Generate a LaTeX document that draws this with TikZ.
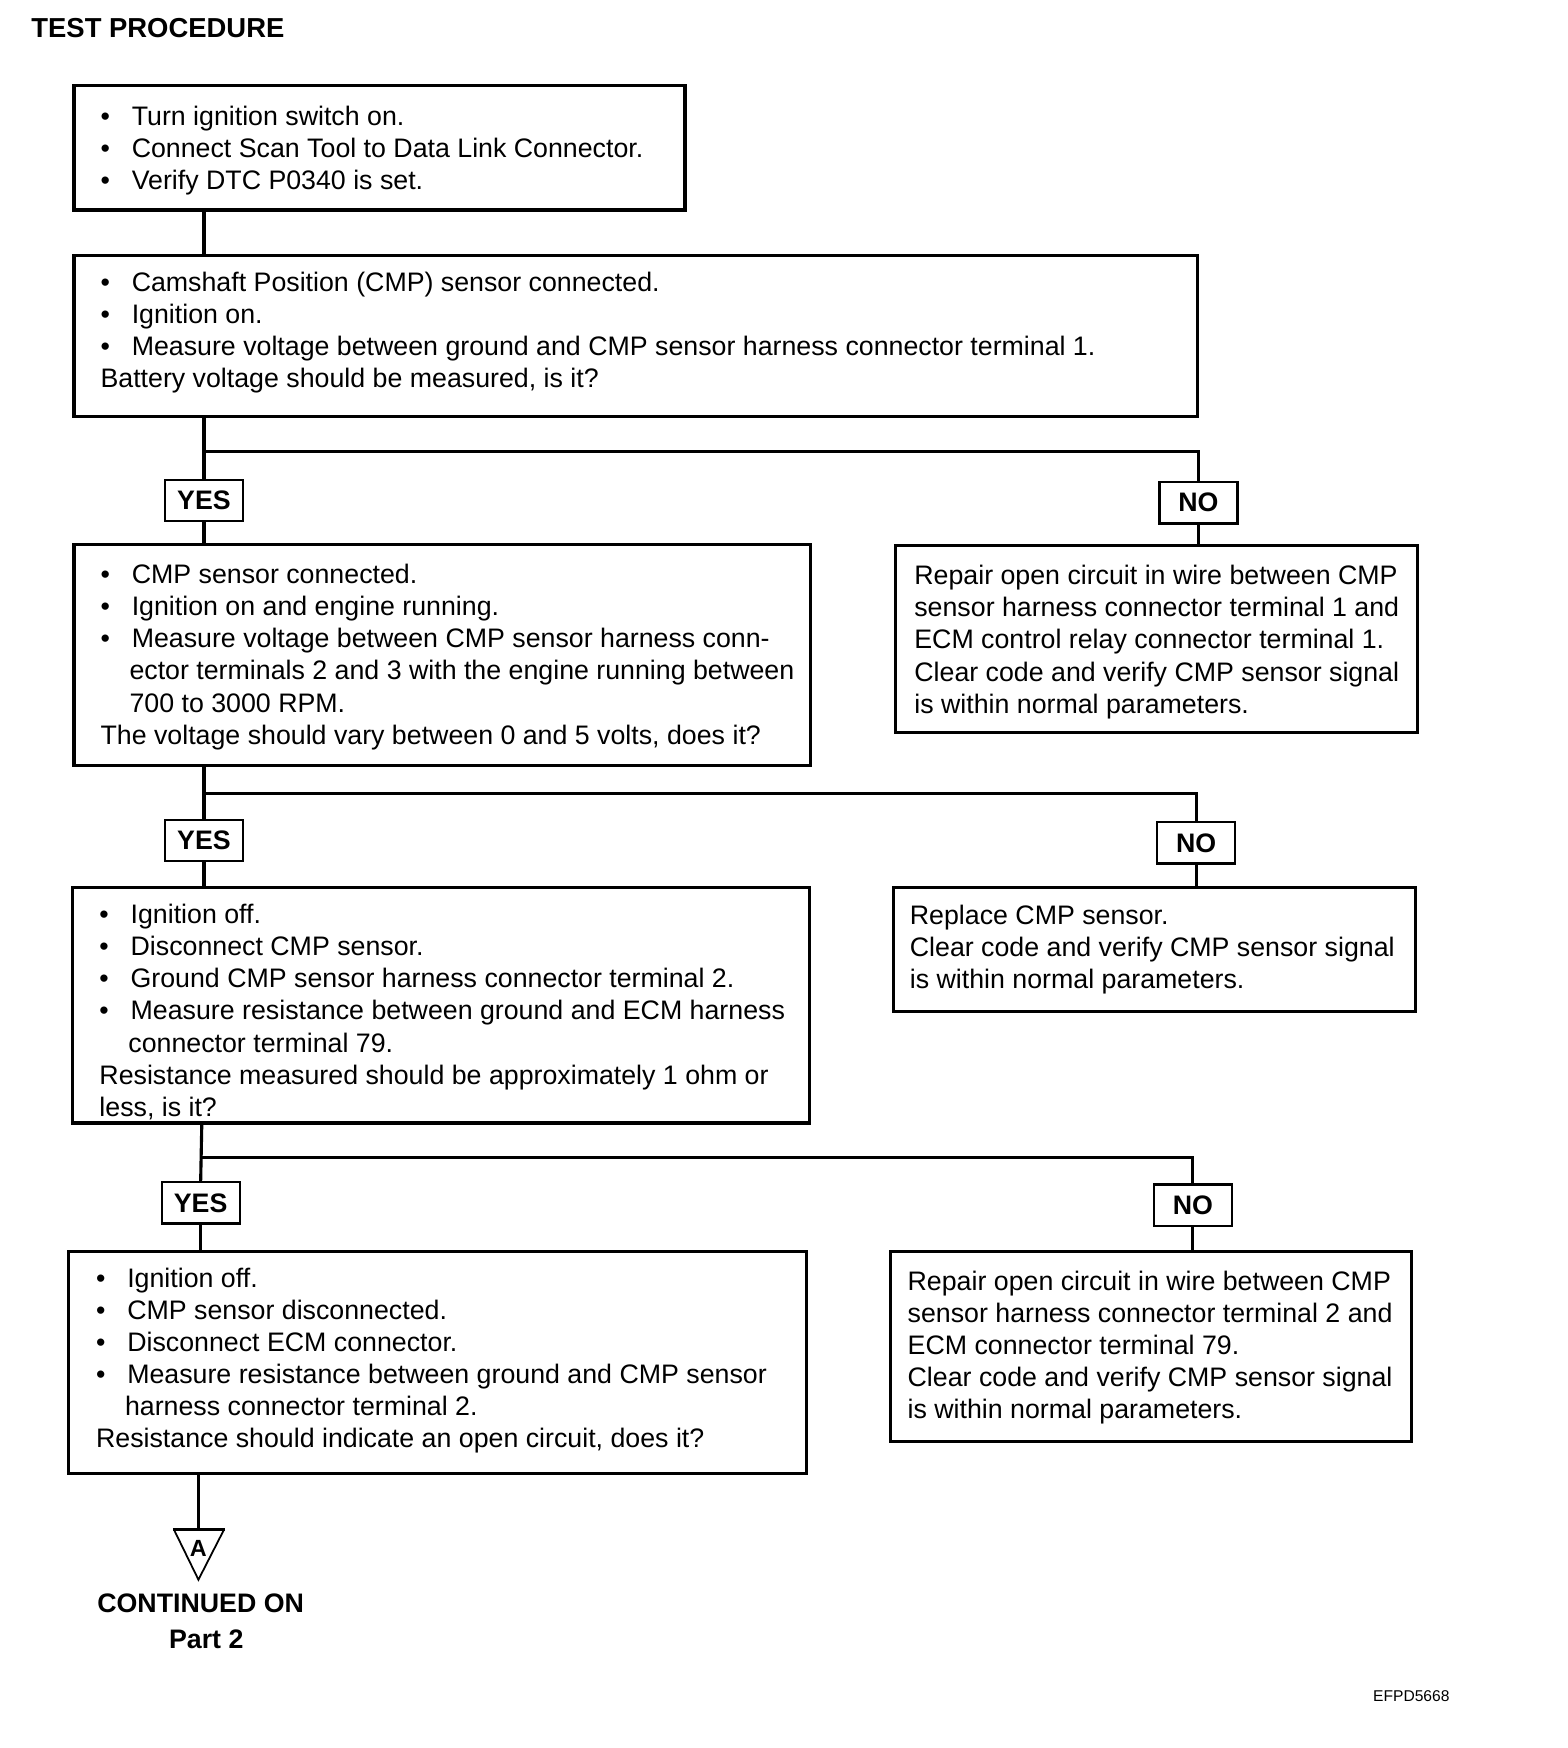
\documentclass[tikz,border=0pt]{standalone}
\usepackage{fontspec}
\setmainfont{Liberation Sans}
\newcommand\bl{\makebox[28pt][l]{\textbullet}}
\newcommand\ind{\hspace*{26pt}}
\begin{document}
\begin{tikzpicture}[x=1pt,y=-1pt,
  box/.style={draw, line width=2.8pt, rectangle, inner sep=0pt, anchor=north west},
  lbl/.style={draw, line width=2pt, minimum width=70pt, minimum height=37pt, inner sep=0pt, font=\fontsize{24}{28.8}\selectfont\bfseries},
  txt/.style={anchor=base west, inner sep=0pt, font=\fontsize{24}{28.8}\selectfont},
  bold/.style={anchor=base, inner sep=0pt, font=\fontsize{24}{28.8}\selectfont\bfseries},
  conn/.style={line width=2.8pt}]
\useasboundingbox (0,0) rectangle (1406,1568);

\node[anchor=base west, inner sep=0pt, font=\fontsize{24.6}{28.8}\selectfont\bfseries] (title) at (28,33.6) {TEST PROCEDURE};

% boxes
\node[box, minimum width=548pt, minimum height=112pt] (b1) at (65,75) {};
\node[box, minimum width=1008pt, minimum height=144pt] (b2) at (65,228) {};
\node[box, minimum width=661pt, minimum height=198pt] (b3) at (65,487) {};
\node[box, minimum width=468pt, minimum height=168pt] (b4) at (802,488) {};
\node[box, minimum width=661pt, minimum height=211pt] (b5) at (64,795) {};
\node[box, minimum width=468pt, minimum height=111pt] (b6) at (800,795) {};
\node[box, minimum width=662pt, minimum height=199pt] (b7) at (60,1121) {};
\node[box, minimum width=468pt, minimum height=171pt] (b8) at (797,1121) {};

% labels
\node[lbl] (y1) at (183,449) {YES};
\node[lbl] (n1) at (1075,451) {NO};
\node[lbl] (y2) at (183,754) {YES};
\node[lbl] (n2) at (1073,756) {NO};
\node[lbl] (y3) at (180,1079) {YES};
\node[lbl] (n3) at (1070,1081) {NO};

\coordinate (j1) at (183,405);
\coordinate (j2) at (183,712);
\coordinate (j3) at (181,1038);
\coordinate (tA) at (178,1372);

% connectors
\draw[conn] (b1.south -| y1) -- (b2.north -| y1);
\draw[conn] (b2.south -| j1) -- (y1.north);
\draw[conn] (j1) -| (n1.north);
\draw[conn] (y1.south) -- (b3.north -| y1);
\draw[conn] (n1.south) -- (b4.north -| n1);

\draw[conn] (b3.south -| j2) -- (y2.north);
\draw[conn] (j2) -| (n2.north);
\draw[conn] (y2.south) -- (b5.north -| y2);
\draw[conn] (n2.south) -- (b6.north -| n2);

\draw[conn] (b5.south -| j3) -- (y3.north);
\draw[conn] (j3) -| (n3.north);
\draw[conn] (y3.south) -- (b7.north -| y3);
\draw[conn] (n3.south) -- (b8.north -| n3);

\draw[conn] (b7.south -| tA) -- (tA);

% off-page connector
\draw[line width=1.6pt, line join=miter] (156,1372) -- (178,1417) -- (201,1372);
\draw[line width=3pt] (155,1372) -- (202,1372);
\node[inner sep=0pt, font=\fontsize{21}{24}\selectfont\bfseries] (A) at (178,1389) {A};

% texts
\node[txt] (t1) at (90,112.5) {\begin{tabular}[t]{@{}l@{}}
\bl Turn ignition switch on.\\
\bl Connect Scan Tool to Data Link Connector.\\
\bl Verify DTC P0340 is set.
\end{tabular}};

\node[txt] (t2) at (90,261.5) {\begin{tabular}[t]{@{}l@{}}
\bl Camshaft Position (CMP) sensor connected.\\
\bl Ignition on.\\
\bl Measure voltage between ground and CMP sensor harness connector terminal 1.\\
Battery voltage should be measured, is it?
\end{tabular}};

\node[txt] (t3) at (90,523.5) {\begin{tabular}[t]{@{}l@{}}
\bl CMP sensor connected.\\
\bl Ignition on and engine running.\\
\bl Measure voltage between CMP sensor harness conn-\\
\ind ector terminals 2 and 3 with the engine running between\\
\ind 700 to 3000 RPM.\\
The voltage should vary between 0 and 5 volts, does it?
\end{tabular}};

\node[txt] (t4) at (820,524.5) {\begin{tabular}[t]{@{}l@{}}
Repair open circuit in wire between CMP\\
sensor harness connector terminal 1 and\\
ECM control relay connector terminal 1.\\
Clear code and verify CMP sensor signal\\
is within normal parameters.
\end{tabular}};

\node[txt] (t5) at (89,828.5) {\begin{tabular}[t]{@{}l@{}}
\bl Ignition off.\\
\bl Disconnect CMP sensor.\\
\bl Ground CMP sensor harness connector terminal 2.\\
\bl Measure resistance between ground and ECM harness\\
\ind connector terminal 79.\\
Resistance measured should be approximately 1 ohm or\\
less, is it?
\end{tabular}};

\node[txt] (t6) at (816,829.5) {\begin{tabular}[t]{@{}l@{}}
Replace CMP sensor.\\
Clear code and verify CMP sensor signal\\
is within normal parameters.
\end{tabular}};

\node[txt] (t7) at (86,1154.5) {\begin{tabular}[t]{@{}l@{}}
\bl Ignition off.\\
\bl CMP sensor disconnected.\\
\bl Disconnect ECM connector.\\
\bl Measure resistance between ground and CMP sensor\\
\ind harness connector terminal 2.\\
Resistance should indicate an open circuit, does it?
\end{tabular}};

\node[txt] (t8) at (814,1157.5) {\begin{tabular}[t]{@{}l@{}}
Repair open circuit in wire between CMP\\
sensor harness connector terminal 2 and\\
ECM connector terminal 79.\\
Clear code and verify CMP sensor signal\\
is within normal parameters.
\end{tabular}};

\node[bold] (cont) at (180,1446) {CONTINUED ON};
\node[bold] (part) at (185,1478.5) {Part 2};
\node[anchor=base, inner sep=0pt, font=\fontsize{14}{16}\selectfont] (code) at (1266,1526) {EFPD5668};
\end{tikzpicture}
\end{document}
